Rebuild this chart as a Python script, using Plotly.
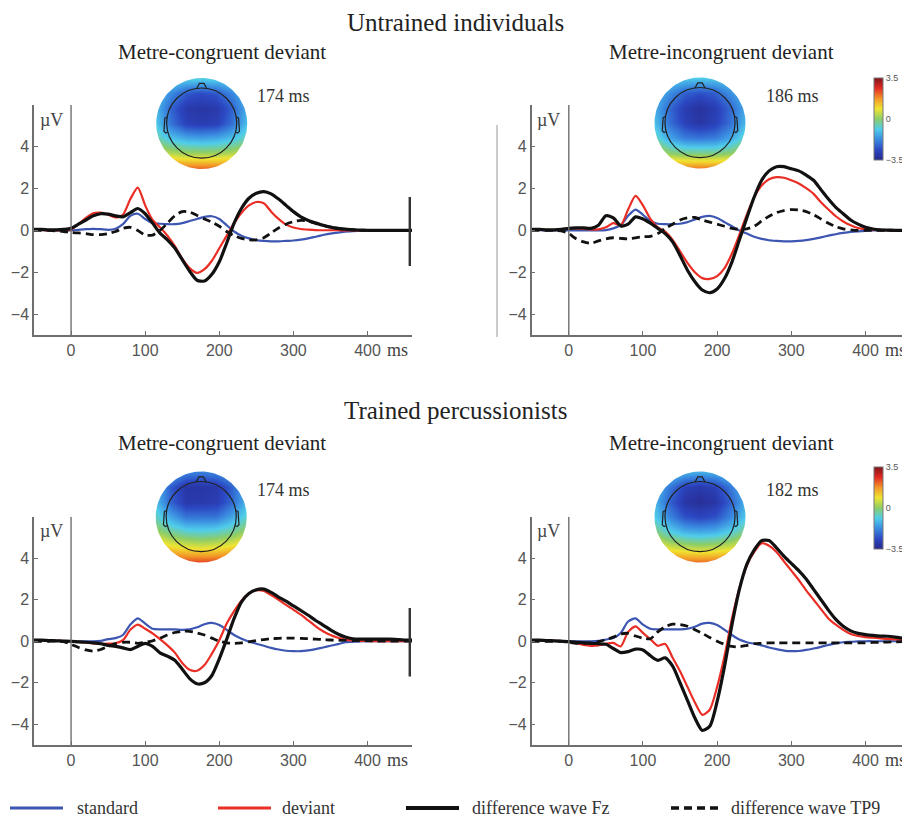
import math
import plotly.graph_objects as go

# The page body has an 8 px margin, so the figure is drawn 8 px smaller and all
# reference-pixel positions are shifted by that offset.
OFF = 8
W, H = 910 - OFF, 819 - OFF


def xp(px):
    return (px - OFF) / W


def yp(py):
    return 1 - (py - OFF) / H


# ---------------- data ----------------
t_ms = list(range(-50, 461, 10))

# Untrained individuals, metre-congruent deviant
u_con_standard = [0.05, 0.03, 0.0, 0.0, 0.0, 0.0, 0.03, 0.06, 0.08, 0.06, 0.03, 0.08, 0.3, 0.7, 0.8, 0.55,
                  0.35, 0.32, 0.3, 0.3, 0.35, 0.45, 0.55, 0.65, 0.68, 0.55, 0.25, -0.05, -0.25, -0.38, -0.46,
                  -0.5, -0.52, -0.52, -0.5, -0.48, -0.44, -0.38, -0.3, -0.22, -0.15, -0.1, -0.06, -0.03, -0.02,
                  -0.01, 0, 0, 0, 0, 0, 0]
u_con_deviant = [0.05, 0.03, 0.0, 0.0, 0.0, 0.05, 0.3, 0.6, 0.82, 0.85, 0.75, 0.62, 0.75, 1.5, 2.05, 1.2,
                 0.5, 0.15, -0.25, -0.75, -1.35, -1.8, -2.03, -1.85, -1.45, -0.85, -0.25, 0.35, 0.85, 1.2,
                 1.36, 1.3, 0.9, 0.55, 0.28, 0.14, 0.07, 0.04, 0.02, 0.01, 0.01, 0.01, 0, 0, 0, 0, 0, 0, 0,
                 0, 0, 0]
u_con_diff_fz = [0.05, 0.05, 0.03, 0.03, 0.05, 0.1, 0.3, 0.5, 0.7, 0.8, 0.78, 0.7, 0.65, 0.85, 1.05, 0.8,
                 0.35, -0.13, -0.45, -0.84, -1.4, -1.95, -2.38, -2.42, -2.1, -1.5, -0.6, 0.35, 1.06, 1.54,
                 1.78, 1.86, 1.75, 1.5, 1.2, 0.9, 0.65, 0.48, 0.35, 0.25, 0.16, 0.1, 0.06, 0.04, 0.02, 0.01,
                 0, 0, 0, 0, 0, 0]
u_con_diff_tp9 = [0, 0, 0, -0.02, -0.05, -0.1, -0.12, -0.15, -0.2, -0.2, -0.15, -0.05, 0.1, 0.15, 0.0,
                  -0.22, -0.22, 0.0, 0.35, 0.7, 0.9, 0.88, 0.72, 0.55, 0.4, 0.2, -0.05, -0.25, -0.38, -0.45,
                  -0.45, -0.35, -0.12, 0.12, 0.3, 0.42, 0.48, 0.45, 0.35, 0.25, 0.15, 0.1, 0.05, 0.02, 0, 0,
                  0, 0, 0, 0, 0, 0]

# Untrained individuals, metre-incongruent deviant
u_inc_standard = [0.05, 0.03, 0.0, 0.0, 0.0, 0.0, 0.0, 0.0, 0.0, 0.0, 0.02, 0.1, 0.25, 0.7, 1.0, 0.75,
                  0.45, 0.32, 0.3, 0.3, 0.32, 0.4, 0.52, 0.65, 0.7, 0.6, 0.4, 0.2, 0.0, -0.15, -0.3, -0.4,
                  -0.47, -0.5, -0.52, -0.52, -0.5, -0.46, -0.4, -0.33, -0.25, -0.18, -0.12, -0.07, -0.04,
                  -0.02, 0, 0, 0, 0, 0, 0]
u_inc_deviant = [0.05, 0.05, 0.03, 0.02, 0.05, 0.1, 0.1, 0.08, 0.05, 0.05, 0.15, 0.35, 0.25, 1.0, 1.65,
                 1.2, 0.55, 0.15, -0.05, -0.45, -1.0, -1.55, -2.0, -2.28, -2.32, -2.18, -1.8, -1.1, -0.2,
                 0.75, 1.6, 2.15, 2.45, 2.55, 2.52, 2.4, 2.25, 2.02, 1.75, 1.35, 1.0, 0.68, 0.43, 0.25, 0.12,
                 0.06, 0.03, 0.02, 0.01, 0, 0, 0]
u_inc_diff_fz = [0.05, 0.05, 0.03, 0.03, 0.05, 0.1, 0.12, 0.12, 0.1, 0.25, 0.7, 0.6, 0.22, 0.3, 0.65,
                 0.55, 0.35, 0.1, -0.15, -0.55, -1.2, -1.9, -2.45, -2.85, -2.98, -2.8, -2.3, -1.5, -0.45,
                 0.6, 1.6, 2.4, 2.85, 3.05, 3.05, 2.95, 2.85, 2.65, 2.4, 1.95, 1.5, 1.1, 0.8, 0.5, 0.3, 0.15,
                 0.07, 0.03, 0.02, 0.01, 0, 0]
u_inc_diff_tp9 = [0, 0, 0, 0, -0.02, -0.15, -0.4, -0.55, -0.62, -0.5, -0.4, -0.35, -0.38, -0.4, -0.35,
                  -0.3, -0.28, -0.15, 0.1, 0.3, 0.5, 0.6, 0.62, 0.5, 0.4, 0.3, 0.2, 0.1, 0.05, 0.08, 0.2,
                  0.45, 0.68, 0.85, 0.95, 1.0, 0.98, 0.9, 0.75, 0.55, 0.35, 0.18, 0.08, 0.03, 0, 0, 0, 0, 0,
                  0, 0, 0]

# Trained percussionists, metre-congruent deviant
t_con_standard = [0.05, 0.05, 0.03, 0.02, 0, 0, 0, 0, 0, 0.02, 0.1, 0.15, 0.3, 0.8, 1.1, 0.85, 0.6, 0.57,
                  0.57, 0.57, 0.55, 0.57, 0.67, 0.82, 0.88, 0.78, 0.55, 0.3, 0.12, -0.02, -0.12, -0.22,
                  -0.32, -0.4, -0.46, -0.48, -0.48, -0.44, -0.38, -0.3, -0.22, -0.14, -0.05, -0.03, -0.01,
                  0, 0, 0, 0, 0, 0, 0]
t_con_deviant = [0.05, 0.05, 0.03, 0.02, 0.01, 0, -0.03, -0.06, -0.1, -0.12, -0.12, -0.1, 0.05, 0.55,
                 0.8, 0.6, 0.38, 0.1, -0.2, -0.55, -1.05, -1.38, -1.42, -1.15, -0.6, 0.05, 0.85, 1.45, 1.95,
                 2.3, 2.45, 2.42, 2.22, 2.0, 1.75, 1.52, 1.28, 1.0, 0.72, 0.48, 0.3, 0.17, 0.08, 0.04, 0.02,
                 0.01, 0, 0, 0, 0, 0, 0]
t_con_diff_fz = [0.05, 0.05, 0.03, 0.02, 0.01, 0.0, -0.03, -0.05, -0.08, -0.12, -0.2, -0.25, -0.32, -0.4,
                 -0.25, -0.1, -0.25, -0.56, -0.72, -0.92, -1.35, -1.8, -2.05, -2.0, -1.65, -0.85, 0.1, 1.1,
                 1.9, 2.3, 2.48, 2.51, 2.35, 2.13, 1.93, 1.7, 1.48, 1.25, 1.0, 0.78, 0.55, 0.35, 0.2, 0.12,
                 0.1, 0.1, 0.1, 0.1, 0.1, 0.08, 0.06, 0.05]
t_con_diff_tp9 = [0, 0, 0, 0, -0.02, -0.15, -0.3, -0.42, -0.48, -0.4, -0.25, -0.12, -0.05, -0.05, -0.1,
                  -0.05, 0.02, 0.15, 0.3, 0.42, 0.48, 0.48, 0.4, 0.3, 0.15, 0.0, -0.08, -0.1, -0.08, -0.03,
                  0.03, 0.08, 0.12, 0.14, 0.15, 0.15, 0.14, 0.12, 0.1, 0.08, 0.06, 0.05, 0.04, 0.03, 0.02,
                  0.02, 0.01, 0.01, 0.01, 0.01, 0.01, 0.01]

# Trained percussionists, metre-incongruent deviant
t_inc_standard = [0.05, 0.05, 0.03, 0.02, 0, 0, 0, 0, 0, 0.02, 0.08, 0.15, 0.4, 0.95, 1.1, 0.8, 0.6, 0.57,
                  0.57, 0.57, 0.57, 0.6, 0.7, 0.85, 0.88, 0.78, 0.55, 0.3, 0.08, -0.05, -0.12, -0.2, -0.3,
                  -0.38, -0.45, -0.48, -0.47, -0.42, -0.35, -0.27, -0.18, -0.1, -0.05, -0.03, -0.01, 0, 0,
                  0, 0, 0, 0, 0]
t_inc_deviant = [0.05, 0.05, 0.03, 0.02, 0, -0.02, -0.1, -0.18, -0.22, -0.2, -0.12, -0.08, -0.25, 0.45,
                 0.72, 0.4, 0.1, -0.22, -0.13, -0.8, -1.45, -2.2, -2.95, -3.55, -3.3, -2.2, -0.7, 1.1, 2.55,
                 3.65, 4.3, 4.72, 4.6, 4.3, 3.85, 3.4, 2.95, 2.45, 2.0, 1.55, 1.1, 0.8, 0.55, 0.35, 0.25,
                 0.2, 0.17, 0.14, 0.11, 0.09, 0.07, 0.05]
t_inc_diff_fz = [0.05, 0.05, 0.03, 0.02, 0, -0.02, -0.05, -0.08, -0.1, -0.12, -0.15, -0.35, -0.55, -0.5,
                 -0.38, -0.42, -0.7, -0.92, -0.8, -1.2, -2.0, -2.85, -3.7, -4.3, -4.1, -2.9, -1.2, 0.8, 2.5,
                 3.7, 4.4, 4.85, 4.85, 4.5, 4.1, 3.75, 3.4, 3.0, 2.5, 2.0, 1.5, 1.05, 0.72, 0.5, 0.38, 0.32,
                 0.28, 0.25, 0.24, 0.2, 0.15, 0.1]
t_inc_diff_tp9 = [0, 0, 0, 0, 0, -0.05, -0.1, -0.1, -0.08, -0.02, 0.08, 0.2, 0.35, 0.38, 0.25, 0.15, 0.12,
                  0.45, 0.7, 0.82, 0.8, 0.72, 0.55, 0.38, 0.18, 0.0, -0.15, -0.25, -0.27, -0.2, -0.12, -0.1,
                  -0.08, -0.08, -0.08, -0.08, -0.08, -0.08, -0.08, -0.08, -0.08, -0.08, -0.08, -0.08, -0.08,
                  -0.08, -0.06, -0.05, -0.04, -0.03, -0.02, -0.02]

panel_titles = ["Metre-congruent deviant", "Metre-incongruent deviant",
                "Metre-congruent deviant", "Metre-incongruent deviant"]
group_titles = ["Untrained individuals", "Trained percussionists"]
peak_labels = ["174 ms", "186 ms", "174 ms", "182 ms"]
series_names = ["standard", "deviant", "difference wave Fz", "difference wave TP9"]
x_ticks = [0, 100, 200, 300, 400]
y_ticks = [-4, -2, 0, 2, 4]
cbar_ticks = [-3.5, 0, 3.5]

# scalp maps: 7x7 grid of potentials (µV), rows listed from front (top) to back (bottom)
scalp_grid = [-1, -2 / 3, -1 / 3, 0, 1 / 3, 2 / 3, 1]
map_u_con = [[-0.5, -0.7, -0.8, -0.8, -0.8, -0.7, -0.5],
             [-1.0, -1.8, -2.4, -2.6, -2.4, -1.8, -1.0],
             [-1.2, -2.3, -3.0, -3.1, -3.0, -2.3, -1.2],
             [-1.0, -2.1, -2.8, -2.9, -2.8, -2.1, -1.0],
             [-0.4, -1.0, -1.3, -1.4, -1.3, -1.0, -0.4],
             [0.6, 0.4, 0.2, 0.2, 0.2, 0.4, 0.6],
             [2.4, 2.3, 2.3, 2.3, 2.3, 2.3, 2.4]]
map_u_inc = [[-0.6, -0.8, -0.9, -0.9, -0.9, -0.8, -0.6],
             [-1.1, -1.7, -2.3, -2.5, -2.3, -1.7, -1.1],
             [-1.3, -2.2, -2.9, -3.2, -2.9, -2.2, -1.3],
             [-1.1, -2.1, -2.8, -3.1, -2.8, -2.1, -1.1],
             [-0.5, -1.4, -1.9, -2.0, -1.9, -1.4, -0.5],
             [0.5, 0.0, -0.2, -0.2, -0.2, 0.0, 0.5],
             [2.2, 2.1, 2.1, 2.1, 2.1, 2.1, 2.2]]
map_t_con = [[-0.7, -1.3, -1.8, -1.9, -1.8, -1.3, -0.7],
             [-1.2, -2.4, -3.1, -3.1, -3.0, -2.3, -1.2],
             [-1.1, -2.3, -3.0, -3.0, -2.9, -2.2, -1.1],
             [-0.6, -1.4, -2.0, -2.0, -2.0, -1.4, -0.6],
             [0.2, -0.3, -0.6, -0.7, -0.6, -0.3, 0.2],
             [1.4, 1.0, 0.8, 0.7, 0.8, 1.0, 1.4],
             [2.8, 2.6, 2.5, 2.5, 2.5, 2.6, 2.8]]
map_t_inc = [[-0.6, -0.9, -1.2, -1.3, -1.2, -0.9, -0.6],
             [-1.1, -2.0, -2.8, -3.0, -2.8, -2.0, -1.1],
             [-1.2, -2.3, -3.1, -3.3, -3.1, -2.3, -1.2],
             [-0.9, -1.8, -2.5, -2.7, -2.5, -1.8, -0.9],
             [-0.1, -0.8, -1.2, -1.3, -1.2, -0.8, -0.1],
             [1.0, 0.6, 0.4, 0.3, 0.4, 0.6, 1.0],
             [2.5, 2.3, 2.2, 2.2, 2.2, 2.3, 2.5]]

panels = [
    [u_con_standard, u_con_deviant, u_con_diff_fz, u_con_diff_tp9],
    [u_inc_standard, u_inc_deviant, u_inc_diff_fz, u_inc_diff_tp9],
    [t_con_standard, t_con_deviant, t_con_diff_fz, t_con_diff_tp9],
    [t_inc_standard, t_inc_deviant, t_inc_diff_fz, t_inc_diff_tp9],
]
maps = [map_u_con, map_u_inc, map_t_con, map_t_inc]
for p in panels:
    for s in p:
        assert len(s) == len(t_ms), len(s)

# ---------------- styling ----------------
SERIF = "Liberation Serif"
SANS = "Liberation Sans"
AX_GREY = "#6f6f6f"
line_styles = [
    dict(color="#3d56b2", width=2.2),
    dict(color="#ea2e25", width=2.2),
    dict(color="#111111", width=3.2),
    dict(color="#111111", width=2.8, dash="8px,5px"),
]
jet = [[0, "rgb(38,40,140)"], [0.125, "rgb(44,72,195)"], [0.25, "rgb(58,138,224)"],
       [0.375, "rgb(80,205,235)"], [0.5, "rgb(140,205,105)"], [0.625, "rgb(240,228,50)"],
       [0.75, "rgb(242,150,40)"], [0.875, "rgb(228,40,35)"], [1, "rgb(128,20,25)"]]

# reference-pixel geometry of panels
col_x = [(34, 412), (531.7, 910)]
row_y = [(105, 335), (516.7, 745)]
map_centers = [(201.7, 123.5), (700, 123), (201.2, 517), (700, 517)]
MAP_R = 45.5          # disc radius in px
MAP_SPAN = 1.2        # axis half-range of the map subplots (disc radius = 1)

fig = go.Figure()
layout = dict(width=W, height=H, margin=dict(l=0, r=0, t=0, b=0), autosize=False,
              paper_bgcolor="white", plot_bgcolor="rgba(0,0,0,0)", showlegend=False)

shapes = []
annotations = []


def text_at(text, x, y, size, color="#333", anchor="center", family=SERIF):
    return dict(text=text, xref="paper", yref="paper", x=xp(x), y=yp(y), xanchor=anchor,
                yanchor="middle", showarrow=False, font=dict(family=family, size=size, color=color))


def circle_path(cx, cy, r):
    k = 0.5523 * r
    return (f"M {cx + r},{cy} C {cx + r},{cy + k} {cx + k},{cy + r} {cx},{cy + r} "
            f"C {cx - k},{cy + r} {cx - r},{cy + k} {cx - r},{cy} "
            f"C {cx - r},{cy - k} {cx - k},{cy - r} {cx},{cy - r} "
            f"C {cx + k},{cy - r} {cx + r},{cy - k} {cx + r},{cy} Z")


# white mask (square with a circular hole) that turns the square heat map into a disc
S = MAP_SPAN + 0.05
mask_x = [S, S, -S, -S, S, S]
mask_y = [0, S, S, -S, -S, 0]
for k in range(121):
    a = -2 * math.pi * k / 120
    mask_x.append(math.cos(a))
    mask_y.append(math.sin(a))
mask_x.append(S)
mask_y.append(0)

for i in range(4):
    row, col = divmod(i, 2)
    # scalp maps live on axes 1-4 (drawn first); waveforms on axes 5-8 (drawn on top)
    mi = i + 1
    mxa = "x" if mi == 1 else f"x{mi}"
    mya = "y" if mi == 1 else f"y{mi}"
    mxkey = "xaxis" if mi == 1 else f"xaxis{mi}"
    mykey = "yaxis" if mi == 1 else f"yaxis{mi}"
    n = i + 5
    xa, ya = f"x{n}", f"y{n}"
    x0, x1 = col_x[col]
    y0, y1 = row_y[row]
    layout[f"xaxis{n}"] = dict(domain=[xp(x0), min(1, xp(x1))], anchor=ya, range=[-50, 460],
                               showline=True, linecolor=AX_GREY, linewidth=1.5, ticks="inside",
                               ticklen=4, tickcolor=AX_GREY, tickvals=x_ticks, showgrid=False,
                               zeroline=False, tickfont=dict(family=SANS, size=16, color="#555"),
                               fixedrange=True)
    layout[f"yaxis{n}"] = dict(domain=[yp(y1), yp(y0)], anchor=xa, range=[-5, 6],
                               showline=True, linecolor=AX_GREY, linewidth=1.5, ticks="inside",
                               ticklen=4, tickcolor=AX_GREY, tickvals=y_ticks, showgrid=False,
                               zeroline=False, tickfont=dict(family=SANS, size=16, color="#555"),
                               fixedrange=True)

    # scalp map
    cx, cy = map_centers[i]
    half = MAP_R * MAP_SPAN
    layout[mxkey] = dict(domain=[xp(cx - half), xp(cx + half)], anchor=mya,
                         range=[-MAP_SPAN, MAP_SPAN], visible=False, fixedrange=True)
    layout[mykey] = dict(domain=[yp(cy + half), yp(cy - half)], anchor=mxa,
                         range=[-MAP_SPAN, MAP_SPAN], visible=False, fixedrange=True)
    fig.add_trace(go.Heatmap(x=scalp_grid, y=scalp_grid, z=maps[i][::-1], zsmooth="best",
                             coloraxis="coloraxis" if row == 0 else "coloraxis2",
                             xaxis=mxa, yaxis=mya, hoverinfo="skip"))
    fig.add_trace(go.Scatter(x=mask_x, y=mask_y, mode="lines", fill="toself", fillcolor="white",
                             line=dict(width=0, color="white"), xaxis=mxa, yaxis=mya,
                             hoverinfo="skip"))
    head = dict(xref=mxa, yref=mya, type="path", line=dict(color="#222", width=1.2))
    shapes.append(dict(head, path=circle_path(0, 0.01, 0.77)))
    shapes.append(dict(head, path="M -0.11,0.77 L -0.05,0.88 L 0.05,0.88 L 0.11,0.77"))
    shapes.append(dict(head, path="M -0.765,0.14 L -0.81,0.12 L -0.83,-0.17 L -0.79,-0.21 L -0.755,-0.19"))
    shapes.append(dict(head, path="M 0.765,0.14 L 0.81,0.12 L 0.83,-0.17 L 0.79,-0.21 L 0.755,-0.19"))

    # waveforms
    for s, name, st in zip(panels[i], series_names, line_styles):
        fig.add_trace(go.Scatter(x=t_ms, y=s, name=name, mode="lines",
                                 line=dict(shape="spline", smoothing=0.7, **st),
                                 xaxis=xa, yaxis=ya, hoverinfo="skip"))
    # stimulus onset line and right calibration bar
    shapes.append(dict(type="line", xref=xa, yref=ya, x0=0, x1=0, y0=-5, y1=6,
                       line=dict(color=AX_GREY, width=1.4)))
    shapes.append(dict(type="line", xref=xa, yref=ya, x0=457, x1=457, y0=-1.7, y1=1.6,
                       line=dict(color="#333", width=2.4)))
    annotations.append(dict(text="µV", xref=xa, yref=ya, x=-27, y=5.3, showarrow=False,
                            xanchor="center", yanchor="middle",
                            font=dict(family=SERIF, size=18, color="#444")))
    annotations.append(dict(text="ms", xref=xa, yref="paper", x=441, y=yp(y1 + 15),
                            xanchor="center", yanchor="middle", showarrow=False,
                            font=dict(family=SERIF, size=18, color="#444")))
    # panel title and latency of the scalp map
    annotations.append(text_at(panel_titles[i], 222 if col == 0 else 721, 52 if row == 0 else 443,
                               21, "#222"))
    annotations.append(text_at(peak_labels[i], 283 if col == 0 else 792, 96 if row == 0 else 490,
                               18, "#333"))

# group titles
for k, gt in enumerate(group_titles):
    annotations.append(text_at(gt, 455, 22 if k == 0 else 411, 25, "#222"))

# extra thin separator line seen in the upper right panel
shapes.append(dict(type="line", xref="paper", yref="paper", x0=xp(497), x1=xp(497), y0=yp(125),
                   y1=yp(337), line=dict(color="#999", width=1)))

# colour bars
cb_common = dict(thickness=9, thicknessmode="pixels", lenmode="pixels", len=82,
                 x=xp(874), xanchor="left", yanchor="top", tickvals=cbar_ticks, ticks="",
                 tickfont=dict(family=SANS, size=9, color="#555"), outlinewidth=1,
                 outlinecolor="#777", xpad=0, ypad=0)
layout["coloraxis"] = dict(colorscale=jet, cmin=-3.5, cmax=3.5,
                           colorbar=dict(cb_common, y=yp(78)))
layout["coloraxis2"] = dict(colorscale=jet, cmin=-3.5, cmax=3.5,
                            colorbar=dict(cb_common, y=yp(467)))

# legend drawn along the bottom
leg_line_x = [(10, 63), (218, 271), (406, 459), (671, 718)]
leg_text_x = [75, 280, 470, 729]
LEG_Y = 808
for name, st, (lx0, lx1), tx in zip(series_names, line_styles, leg_line_x, leg_text_x):
    lst = dict(color=st["color"], width=st["width"] + 0.6)
    if "dash" in st:
        lst["dash"] = st["dash"]
    shapes.append(dict(type="line", xref="paper", yref="paper", x0=xp(lx0), x1=xp(lx1),
                       y0=yp(LEG_Y), y1=yp(LEG_Y), line=lst))
    annotations.append(text_at(name, tx, LEG_Y, 18, "#333", anchor="left"))

layout["shapes"] = shapes
layout["annotations"] = annotations
fig.update_layout(**layout)
fig.write_html("out.html")
